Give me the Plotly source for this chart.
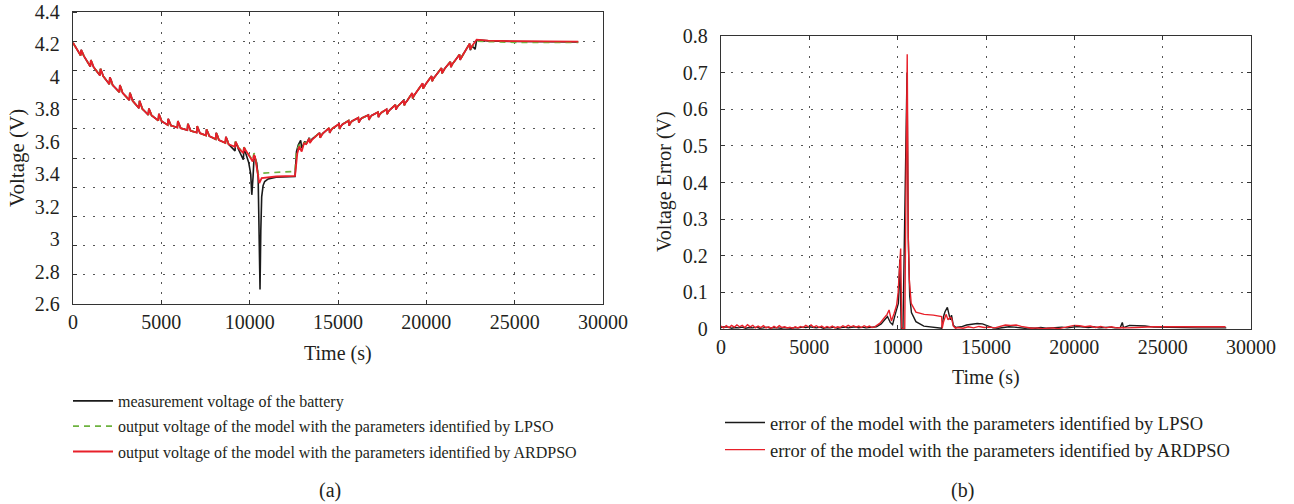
import plotly.graph_objects as go

# ---------------- (a) terminal voltage ----------------
# shared discharge pulses (0 - 8800 s)
t_discharge = [0,
               434, 464, 530, 620, 981, 1011, 1077, 1167, 1528, 1558, 1624, 1714,
               2057, 2087, 2153, 2243, 2623, 2653, 2719, 2809, 3189, 3219, 3285, 3375,
               3736, 3766, 3832, 3922, 4264, 4294, 4360, 4450, 4830, 4860, 4926, 5016,
               5359, 5389, 5455, 5545, 5906, 5936, 6002, 6092, 6472, 6502, 6568, 6658,
               7000, 7030, 7096, 7186, 7529, 7559, 7625, 7715, 8076, 8106, 8172, 8262,
               8623, 8653, 8719, 8809]
v_discharge = [4.21,
               4.132, 4.167, 4.150, 4.128, 4.064, 4.103, 4.086, 4.060, 4.009, 4.050, 4.032, 4.004,
               3.955, 3.998, 3.980, 3.950, 3.906, 3.949, 3.931, 3.901, 3.857, 3.902, 3.883, 3.852,
               3.807, 3.852, 3.833, 3.803, 3.766, 3.805, 3.788, 3.762, 3.731, 3.772, 3.754, 3.727,
               3.704, 3.741, 3.725, 3.700, 3.688, 3.727, 3.710, 3.684, 3.672, 3.711, 3.694, 3.668,
               3.657, 3.696, 3.679, 3.653, 3.639, 3.676, 3.660, 3.635, 3.616, 3.655, 3.638, 3.610,
               3.593, 3.630, 3.614, 3.585]
# shared charge pulses (13960 - 22070 s)
t_charge = [13960, 13990, 14056, 14146, 14500, 14530, 14596, 14686, 15060, 15090, 15156, 15246,
            15600, 15630, 15696, 15786, 16150, 16180, 16246, 16336, 16720, 16750, 16816, 16906,
            17260, 17290, 17356, 17446, 17750, 17780, 17846, 17936, 18250, 18280, 18346, 18436,
            18720, 18750, 18816, 18906, 19200, 19230, 19296, 19386, 19790, 19820, 19886, 19976,
            20300, 20330, 20396, 20486, 20860, 20890, 20956, 21046, 21360, 21390, 21456, 21546,
            21880, 21910, 21976, 22066]
v_charge = [3.655, 3.625, 3.640, 3.652, 3.685, 3.655, 3.670, 3.682, 3.710, 3.680, 3.695, 3.707,
            3.730, 3.700, 3.715, 3.727, 3.748, 3.718, 3.733, 3.745, 3.765, 3.735, 3.750, 3.762,
            3.782, 3.752, 3.767, 3.779, 3.800, 3.770, 3.785, 3.797, 3.828, 3.798, 3.813, 3.825,
            3.855, 3.825, 3.840, 3.852, 3.900, 3.868, 3.884, 3.897, 3.960, 3.928, 3.944, 3.957,
            4.005, 3.973, 3.989, 4.002, 4.055, 4.022, 4.038, 4.052, 4.093, 4.060, 4.076, 4.090,
            4.138, 4.105, 4.121, 4.135]

# measured voltage: end-of-discharge / rest / start of charge
t_meas_mid = [9171, 9201, 9267, 9357, 9641, 9678, 9790, 9950, 10060, 10120, 10190, 10245, 10300, 10400,
              10480, 10540, 10586, 10630, 10680, 10760, 10850, 11050, 11500, 12568, 12650, 12755,
              12886, 12950, 13132, 13200, 13377, 13410, 13530]
v_meas_mid = [3.544, 3.600, 3.585, 3.555, 3.489, 3.555, 3.525, 3.470, 3.400, 3.273, 3.380, 3.499, 3.505, 3.470,
              3.380, 3.100, 2.690, 3.050, 3.260, 3.330, 3.355, 3.371, 3.382, 3.386, 3.540, 3.581,
              3.608, 3.561, 3.602, 3.585, 3.625, 3.595, 3.617]
t_meas_end = [22450, 22490, 22600, 22760, 22850, 23500, 25000, 28600]
v_meas_end = [4.205, 4.165, 4.190, 4.170, 4.228, 4.222, 4.218, 4.215]

# LPSO model output
t_lpso_mid = [9171, 9201, 9267, 9357, 9641, 9678, 10171, 10245, 10301, 10490, 10540, 12568, 12650,
              12811, 12943, 13075, 13200, 13377, 13410, 13530]
v_lpso_mid = [3.575, 3.605, 3.592, 3.566, 3.535, 3.567, 3.485, 3.530, 3.515, 3.396, 3.406, 3.417, 3.545,
              3.580, 3.565, 3.595, 3.590, 3.625, 3.597, 3.617]
t_lpso_end = [22450, 22490, 22600, 22850, 25000, 28600]
v_lpso_end = [4.203, 4.168, 4.190, 4.220, 4.213, 4.212]

# ARDPSO model output
t_ard_mid = [9171, 9201, 9267, 9357, 9641, 9678, 10171, 10245, 10301, 10546, 10679, 11500, 12568, 12698,
             12811, 12943, 13075, 13200, 13377, 13410, 13530]
v_ard_mid = [3.569, 3.600, 3.587, 3.562, 3.530, 3.565, 3.478, 3.519, 3.509, 3.345, 3.376, 3.386, 3.390, 3.530,
             3.571, 3.540, 3.591, 3.585, 3.620, 3.592, 3.612]
t_ard_end = [22450, 22490, 22600, 22850, 23500, 25000, 28600]
v_ard_end = [4.205, 4.170, 4.192, 4.230, 4.224, 4.220, 4.217]

t_meas = t_discharge + t_meas_mid + t_charge + t_meas_end
v_meas = v_discharge + v_meas_mid + v_charge + v_meas_end
t_lpso = t_discharge + t_lpso_mid + t_charge + t_lpso_end
v_lpso = v_discharge + v_lpso_mid + v_charge + v_lpso_end
t_ard = t_discharge + t_ard_mid + t_charge + t_ard_end
v_ard = v_discharge + v_ard_mid + v_charge + v_ard_end

# ---------------- (b) voltage error ----------------
t_err_lpso_a = list(range(0, 9000, 200))
e_err_lpso_a = [0.004, 0.006, 0.005, 0.002, 0.004, 0.003, 0.005, 0.002, 0.004, 0.003,
                0.005, 0.002, 0.003, 0.005, 0.002, 0.004, 0.003, 0.002, 0.004, 0.003,
                0.002, 0.004, 0.003, 0.005, 0.004, 0.006, 0.004, 0.003, 0.005, 0.002,
                0.004, 0.003, 0.005, 0.002, 0.004, 0.005, 0.003, 0.004, 0.006, 0.003,
                0.005, 0.003, 0.004, 0.003, 0.006]
t_err_lpso_b = [9064, 9250, 9422, 9579, 9713, 9850, 10039, 10120, 10200, 10300, 10530, 10600, 10680,
                10780, 11033, 11481, 12000, 12492, 12600, 12680, 12813, 12900, 12980, 13048, 13152]
e_err_lpso_b = [0.014, 0.025, 0.034, 0.018, 0.012, 0.038, 0.070, 0.190, 0.002, 0.002, 0.700, 0.250, 0.090,
                0.045, 0.020, 0.008, 0.004, 0.002, 0.035, 0.047, 0.059, 0.043, 0.025, 0.038, 0.010]
t_err_lpso_c = list(range(13300, 22700, 300))
e_err_lpso_c = [0.004, 0.006, 0.011, 0.013, 0.015, 0.014, 0.008, 0.003, 0.002, 0.004,
                0.006, 0.005, 0.003, 0.002, 0.003, 0.002, 0.004, 0.002, 0.003, 0.004,
                0.005, 0.003, 0.005, 0.007, 0.005, 0.004, 0.006, 0.003, 0.004, 0.005,
                0.003, 0.004]
t_err_lpso_d = [22716, 22780, 23119, 23500, 24000, 24500, 25500, 27000, 28600]
e_err_lpso_d = [0.018, 0.004, 0.010, 0.010, 0.008, 0.005, 0.004, 0.003, 0.003]

t_err_ard_a = list(range(0, 9000, 150))
e_err_ard_a = [0.008, 0.003, 0.009, 0.004, 0.010, 0.005, 0.011, 0.006, 0.010, 0.004,
               0.012, 0.006, 0.010, 0.003, 0.008, 0.004, 0.009, 0.003, 0.006, 0.002,
               0.007, 0.003, 0.009, 0.004, 0.006, 0.003, 0.005, 0.002, 0.006, 0.003,
               0.007, 0.004, 0.010, 0.006, 0.011, 0.005, 0.009, 0.004, 0.008, 0.003,
               0.007, 0.004, 0.008, 0.003, 0.006, 0.004, 0.009, 0.005, 0.010, 0.006,
               0.009, 0.005, 0.008, 0.004, 0.009, 0.005, 0.008, 0.004, 0.006, 0.010]
t_err_ard_b = [9001, 9200, 9400, 9512, 9646, 9802, 9944, 10026, 10100, 10170, 10230, 10265, 10400,
               10541, 10600, 10660, 10765, 10888, 11033, 11500, 12020, 12488, 12520, 12600, 12737,
               12850, 12960, 13048, 13152, 13272]
e_err_ard_b = [0.016, 0.028, 0.040, 0.052, 0.022, 0.043, 0.066, 0.100, 0.179, 0.220, 0.005, 0.000, 0.000,
               0.750, 0.250, 0.134, 0.070, 0.057, 0.046, 0.040, 0.038, 0.034, 0.002, 0.020, 0.040,
               0.025, 0.032, 0.030, 0.008, 0.002]
t_err_ard_c = list(range(13400, 22600, 300))
e_err_ard_c = [0.004, 0.002, 0.006, 0.003, 0.007, 0.004, 0.005, 0.003, 0.008, 0.011,
               0.010, 0.011, 0.007, 0.004, 0.002, 0.003, 0.001, 0.002, 0.003, 0.001,
               0.004, 0.008, 0.010, 0.009, 0.006, 0.008, 0.004, 0.007, 0.003, 0.006,
               0.003]
t_err_ard_d = [22700, 23000, 23500, 24000, 24500, 28560]
e_err_ard_d = [0.004, 0.003, 0.004, 0.005, 0.006, 0.006]

t_err_lpso = t_err_lpso_a + t_err_lpso_b + t_err_lpso_c + t_err_lpso_d
e_err_lpso = e_err_lpso_a + e_err_lpso_b + e_err_lpso_c + e_err_lpso_d
t_err_ard = t_err_ard_a + t_err_ard_b + t_err_ard_c + t_err_ard_d
e_err_ard = e_err_ard_a + e_err_ard_b + e_err_ard_c + e_err_ard_d

# ---------------- ticks ----------------
x_ticks = [0, 5000, 10000, 15000, 20000, 25000, 30000]
x_labels = ["0", "5000", "10000", "15000", "20000", "25000", "30000"]
v_ticks = [2.6, 2.8, 3.0, 3.2, 3.4, 3.6, 3.8, 4.0, 4.2, 4.4]
v_labels = ["2.6", "2.8", "3", "3.2", "3.4", "3.6", "3.8", "4", "4.2", "4.4"]
e_ticks = [0, 0.1, 0.2, 0.3, 0.4, 0.5, 0.6, 0.7, 0.8]
e_labels = ["0", "0.1", "0.2", "0.3", "0.4", "0.5", "0.6", "0.7", "0.8"]

# ---------------- figure ----------------
W, H = 1294, 504
FONT = "Liberation Serif"
TXT = "#231f20"
BLACK = "#1a1a1a"
GREEN = "#6db33f"
RED = "#e8202a"
GRID = "#555555"
DOT = "2px,8px"

fig = go.Figure()
fig.add_trace(go.Scatter(x=t_meas, y=v_meas, mode="lines", xaxis="x", yaxis="y",
                         line=dict(color=BLACK, width=1.6),
                         name="measurement voltage of the battery",
                         legend="legend", legendgroup="a1"))
fig.add_trace(go.Scatter(x=t_lpso, y=v_lpso, mode="lines", xaxis="x", yaxis="y",
                         line=dict(color=GREEN, width=1.7, dash="6px,5px"),
                         name="output voltage of the model with the parameters identified by LPSO",
                         legend="legend", legendgroup="a2"))
fig.add_trace(go.Scatter(x=t_ard, y=v_ard, mode="lines", xaxis="x", yaxis="y",
                         line=dict(color=RED, width=1.8),
                         name="output voltage of the model with the parameters identified by ARDPSO",
                         legend="legend", legendgroup="a3"))
fig.add_trace(go.Scatter(x=t_err_lpso, y=e_err_lpso, mode="lines", xaxis="x2", yaxis="y2",
                         line=dict(color=BLACK, width=1.4),
                         name="error of the model with the parameters identified by LPSO",
                         legend="legend2", legendgroup="b1"))
fig.add_trace(go.Scatter(x=t_err_ard, y=e_err_ard, mode="lines", xaxis="x2", yaxis="y2",
                         line=dict(color=RED, width=1.4),
                         name="error of the model with the parameters identified by ARDPSO",
                         legend="legend2", legendgroup="b2"))

def px_x(p):
    return p / W

def px_y(p):
    return 1 - p / H

tickfont = dict(family=FONT, size=20, color=TXT)
common_x = dict(range=[0, 30000], tickvals=x_ticks, ticktext=x_labels, tickfont=tickfont,
                showgrid=True, gridcolor=GRID, gridwidth=1, griddash=DOT, zeroline=False,
                ticks="inside", ticklen=4, tickcolor="#333", showline=True, linecolor="#333",
                linewidth=1.3, mirror="ticks", ticklabelstandoff=0, automargin=False)

fig.update_layout(
    width=W, height=H,
    margin=dict(l=0, r=0, t=0, b=0),
    paper_bgcolor="white", plot_bgcolor="white",
    font=dict(family=FONT, color=TXT),
    xaxis=dict(domain=[px_x(73), px_x(603)], anchor="y", **common_x),
    yaxis=dict(domain=[px_y(304), px_y(12)], anchor="x", range=[2.6, 4.4],
               tickvals=v_ticks, ticktext=v_labels, tickfont=tickfont,
               showgrid=False, zeroline=False, ticks="", showline=True, linecolor="#333",
               linewidth=1.3, mirror=True, ticklabelstandoff=8, automargin=False,
               minor=dict(tick0=2.6, dtick=0.18, showgrid=True, gridcolor=GRID, gridwidth=1,
                          griddash=DOT, ticks="inside", ticklen=4, tickcolor="#333")),
    xaxis2=dict(domain=[px_x(721), px_x(1251)], anchor="y2", **common_x),
    yaxis2=dict(domain=[px_y(329), px_y(36)], anchor="x2", range=[0, 0.8],
                tickvals=e_ticks, ticktext=e_labels, tickfont=tickfont,
                showgrid=True, gridcolor=GRID, gridwidth=1, griddash=DOT, zeroline=False,
                ticks="inside", ticklen=4, tickcolor="#333", showline=True, linecolor="#333",
                linewidth=1.3, mirror="ticks", ticklabelstandoff=8, automargin=False),
    legend=dict(x=px_x(68), y=px_y(384), xanchor="left", yanchor="top",
                bgcolor="rgba(0,0,0,0)", font=dict(family=FONT, size=16, color=TXT),
                traceorder="grouped", tracegroupgap=1.5, itemwidth=40),
    legend2=dict(x=px_x(720), y=px_y(404), xanchor="left", yanchor="top",
                 bgcolor="rgba(0,0,0,0)", font=dict(family=FONT, size=18.5, color=TXT),
                 traceorder="grouped", tracegroupgap=0, itemwidth=40),
    showlegend=True,
)

ann_font = dict(family=FONT, size=20, color=TXT)
fig.add_annotation(text="Time (s)", x=px_x(338), y=px_y(353), xref="paper", yref="paper",
                   showarrow=False, font=ann_font, xanchor="center", yanchor="middle")
fig.add_annotation(text="Time (s)", x=px_x(986), y=px_y(377), xref="paper", yref="paper",
                   showarrow=False, font=ann_font, xanchor="center", yanchor="middle")
fig.add_annotation(text="Voltage (V)", x=px_x(17), y=px_y(158), xref="paper", yref="paper",
                   showarrow=False, font=dict(family=FONT, size=21, color=TXT), textangle=-90,
                   xanchor="center", yanchor="middle")
fig.add_annotation(text="Voltage Error (V)", x=px_x(664), y=px_y(182), xref="paper", yref="paper",
                   showarrow=False, font=ann_font, textangle=-90, xanchor="center", yanchor="middle")
fig.add_annotation(text="(a)", x=px_x(330), y=px_y(490), xref="paper", yref="paper",
                   showarrow=False, font=dict(family=FONT, size=20, color=TXT),
                   xanchor="center", yanchor="middle")
fig.add_annotation(text="(b)", x=px_x(962), y=px_y(490), xref="paper", yref="paper",
                   showarrow=False, font=dict(family=FONT, size=20, color=TXT),
                   xanchor="center", yanchor="middle")

fig.write_html("out.html", config={"displayModeBar": False},
               post_script="document.body.style.margin='0px';")
